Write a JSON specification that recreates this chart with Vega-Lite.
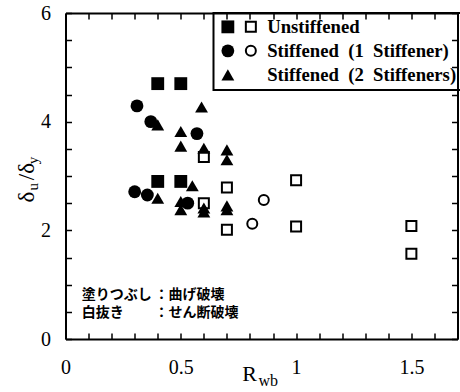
{
  "$schema": "https://vega.github.io/schema/vega-lite/v6.json",
  "width": 392,
  "height": 326,
  "autosize": {"type": "none"},
  "padding": {"left": 65.5, "top": 13, "right": 2.5, "bottom": 53},
  "background": "white",
  "config": {
    "view": {"stroke": null},
    "font": "Liberation Serif",
    "axis": {
      "grid": false,
      "domainColor": "black",
      "domainWidth": 2,
      "labelColor": "black",
      "labelFont": "Liberation Serif",
      "labelFontSize": 20,
      "labelFlush": false,
      "labelOverlap": false,
      "labelBound": false,
      "titleColor": "black",
      "titleFont": "Liberation Serif",
      "titleFontWeight": "normal"
    },
    "legend": {"strokeColor": "black", "strokeWidth": 2}
  },
  "datasets": {
    "tests": [
      {"rwb": 0.40, "ratio": 4.70, "type": "U", "mode": "bend"},
      {"rwb": 0.50, "ratio": 4.70, "type": "U", "mode": "bend"},
      {"rwb": 0.40, "ratio": 2.90, "type": "U", "mode": "bend"},
      {"rwb": 0.50, "ratio": 2.90, "type": "U", "mode": "bend"},
      {"rwb": 0.31, "ratio": 4.29, "type": "S1", "mode": "bend"},
      {"rwb": 0.37, "ratio": 4.00, "type": "S1", "mode": "bend"},
      {"rwb": 0.57, "ratio": 3.78, "type": "S1", "mode": "bend"},
      {"rwb": 0.30, "ratio": 2.71, "type": "S1", "mode": "bend"},
      {"rwb": 0.355, "ratio": 2.65, "type": "S1", "mode": "bend"},
      {"rwb": 0.53, "ratio": 2.50, "type": "S1", "mode": "bend"},
      {"rwb": 0.40, "ratio": 3.94, "type": "S2", "mode": "bend"},
      {"rwb": 0.59, "ratio": 4.27, "type": "S2", "mode": "bend"},
      {"rwb": 0.50, "ratio": 3.82, "type": "S2", "mode": "bend"},
      {"rwb": 0.50, "ratio": 3.55, "type": "S2", "mode": "bend"},
      {"rwb": 0.60, "ratio": 3.51, "type": "S2", "mode": "bend"},
      {"rwb": 0.70, "ratio": 3.48, "type": "S2", "mode": "bend"},
      {"rwb": 0.70, "ratio": 3.30, "type": "S2", "mode": "bend"},
      {"rwb": 0.55, "ratio": 2.82, "type": "S2", "mode": "bend"},
      {"rwb": 0.40, "ratio": 2.59, "type": "S2", "mode": "bend"},
      {"rwb": 0.50, "ratio": 2.53, "type": "S2", "mode": "bend"},
      {"rwb": 0.50, "ratio": 2.38, "type": "S2", "mode": "bend"},
      {"rwb": 0.60, "ratio": 2.41, "type": "S2", "mode": "bend"},
      {"rwb": 0.60, "ratio": 2.34, "type": "S2", "mode": "bend"},
      {"rwb": 0.70, "ratio": 2.45, "type": "S2", "mode": "bend"},
      {"rwb": 0.70, "ratio": 2.38, "type": "S2", "mode": "bend"},
      {"rwb": 0.60, "ratio": 3.35, "type": "U", "mode": "shear"},
      {"rwb": 0.70, "ratio": 2.79, "type": "U", "mode": "shear"},
      {"rwb": 0.60, "ratio": 2.50, "type": "U", "mode": "shear"},
      {"rwb": 0.70, "ratio": 2.01, "type": "U", "mode": "shear"},
      {"rwb": 1.00, "ratio": 2.92, "type": "U", "mode": "shear"},
      {"rwb": 1.00, "ratio": 2.07, "type": "U", "mode": "shear"},
      {"rwb": 1.50, "ratio": 2.08, "type": "U", "mode": "shear"},
      {"rwb": 1.50, "ratio": 1.57, "type": "U", "mode": "shear"},
      {"rwb": 0.86, "ratio": 2.56, "type": "S1", "mode": "shear"},
      {"rwb": 0.81, "ratio": 2.12, "type": "S1", "mode": "shear"}
    ],
    "notes": [
      {"key": "塗りつぶし", "desc": "：曲げ破壊", "y": 0.81},
      {"key": "白抜き", "desc": "：せん断破壊", "y": 0.48}
    ]
  },
  "layer": [
    {
      "data": {"name": "tests"},
      "transform": [{"filter": "datum.mode === 'bend'"}],
      "mark": {"type": "point", "filled": true, "color": "black", "opacity": 1, "size": 165},
      "encoding": {
        "x": {
          "field": "rwb", "type": "quantitative",
          "scale": {"domain": [0, 1.7], "nice": false, "zero": false},
          "axis": {
            "orient": "bottom",
            "values": [0, 0.5, 1, 1.5],
            "format": ".1~f",
            "ticks": false,
            "labelPadding": 18,
            "title": "R",
            "titleFontSize": 22,
            "titleAlign": "center",
            "titleBaseline": "alphabetic",
            "titleX": 183.5,
            "titleY": 41
          }
        },
        "y": {
          "field": "ratio", "type": "quantitative",
          "scale": {"domain": [0, 6], "nice": false},
          "axis": {
            "orient": "left",
            "values": [0, 2, 4, 6],
            "format": "d",
            "ticks": false,
            "labelPadding": 15,
            "title": "δ\u00a0\u00a0/δ",
            "titleFontSize": 23,
            "titleAngle": 270,
            "titleAlign": "left",
            "titleBaseline": "alphabetic",
            "titleX": -32.5,
            "titleY": 189
          }
        },
        "shape": {
          "field": "type", "type": "nominal",
          "scale": {"domain": ["U", "S1", "S2"], "range": ["square", "circle", "triangle-up"]},
          "legend": {
            "orient": "none",
            "legendX": 148,
            "legendY": 0,
            "title": "\u00a0",
            "titleFontSize": 2,
            "titlePadding": -2.5,
            "padding": 5,
            "rowPadding": 4,
            "labelOffset": 30,
            "labelFont": "Liberation Serif",
            "labelFontSize": 18.7,
            "labelFontWeight": "bold",
            "labelColor": "black",
            "labelLimit": 400,
            "symbolSize": 165,
            "symbolFillColor": "black",
            "symbolStrokeColor": "black",
            "symbolStrokeWidth": 0,
            "symbolOpacity": 1,
            "labelExpr": "datum.value === 'U' ? 'Unstiffened' : datum.value === 'S1' ? 'Stiffened\u00a0 (1\u00a0 Stiffener)' : 'Stiffened\u00a0 (2\u00a0 Stiffeners)'"
          }
        }
      }
    },
    {
      "data": {"name": "tests"},
      "transform": [{"filter": "datum.mode === 'shear'"}],
      "mark": {"type": "point", "filled": false, "color": "black", "opacity": 1, "strokeWidth": 2, "size": 100},
      "encoding": {
        "x": {
          "field": "rwb", "type": "quantitative",
          "axis": {
            "orient": "top",
            "offset": -326,
            "values": [0, 0.1, 0.2, 0.3, 0.4, 0.5, 0.6, 0.7, 0.8, 0.9, 1, 1.1, 1.2, 1.3, 1.4, 1.5, 1.6, 1.7],
            "labels": false,
            "domain": false,
            "ticks": true,
            "tickColor": "black",
            "tickWidth": 1.5,
            "tickSize": 6,
            "title": "wb",
            "titleFontSize": 16,
            "titleAlign": "left",
            "titleBaseline": "alphabetic",
            "titleX": 192.5,
            "titleY": 46
          }
        },
        "y": {
          "field": "ratio", "type": "quantitative",
          "axis": {
            "orient": "right",
            "offset": -392,
            "values": [0, 0.5, 1, 1.5, 2, 2.5, 3, 3.5, 4, 4.5, 5, 5.5, 6],
            "labels": false,
            "domain": false,
            "ticks": true,
            "tickColor": "black",
            "tickWidth": 1.5,
            "tickSize": 6,
            "title": "u\u00a0\u00a0\u00a0\u00a0\u00a0y",
            "titleFontSize": 15,
            "titleAngle": 270,
            "titleAlign": "left",
            "titleBaseline": "alphabetic",
            "titleX": -28.5,
            "titleY": 177
          }
        },
        "shape": {
          "field": "type", "type": "nominal",
          "scale": {"domain": ["U", "S1"], "range": ["square", "circle"]},
          "legend": {
            "orient": "none",
            "legendX": 171,
            "legendY": 0,
            "title": "\u00a0",
            "titleFontSize": 2,
            "titlePadding": -2.5,
            "padding": 5,
            "strokeColor": "transparent",
            "rowPadding": 4,
            "labelFontSize": 18.7,
            "labelExpr": "'\u00a0'",
            "symbolSize": 100,
            "symbolFillColor": "transparent",
            "symbolStrokeColor": "black",
            "symbolStrokeWidth": 2,
            "symbolOpacity": 1
          }
        }
      }
    },
    {
      "data": {"name": "tests"},
      "transform": [{"filter": "datum.mode === 'shear'"}],
      "mark": {"type": "point", "filled": false, "opacity": 0, "size": 1},
      "encoding": {
        "x": {
          "field": "rwb", "type": "quantitative",
          "axis": {
            "orient": "bottom",
            "offset": -326,
            "values": [0, 0.1, 0.2, 0.3, 0.4, 0.5, 0.6, 0.7, 0.8, 0.9, 1, 1.1, 1.2, 1.3, 1.4, 1.5, 1.6, 1.7],
            "labels": false,
            "ticks": true,
            "tickColor": "black",
            "tickWidth": 1.5,
            "tickSize": 6,
            "title": null
          }
        },
        "y": {
          "field": "ratio", "type": "quantitative",
          "axis": {
            "orient": "left",
            "offset": -392,
            "values": [0, 0.5, 1, 1.5, 2, 2.5, 3, 3.5, 4, 4.5, 5, 5.5, 6],
            "labels": false,
            "ticks": true,
            "tickColor": "black",
            "tickWidth": 1.5,
            "tickSize": 6,
            "title": null
          }
        }
      }
    },
    {
      "data": {"name": "notes"},
      "mark": {"type": "text", "align": "left", "baseline": "middle", "font": "Noto Sans CJK JP", "fontSize": 14, "fontWeight": "bold", "color": "black"},
      "encoding": {
        "x": {"datum": 0.07, "type": "quantitative", "axis": null},
        "y": {"field": "y", "type": "quantitative", "axis": null},
        "text": {"field": "key"}
      }
    },
    {
      "data": {"name": "notes"},
      "mark": {"type": "text", "align": "left", "baseline": "middle", "font": "Noto Sans CJK JP", "fontSize": 14, "fontWeight": "bold", "color": "black"},
      "encoding": {
        "x": {"datum": 0.386, "type": "quantitative", "axis": null},
        "y": {"field": "y", "type": "quantitative", "axis": null},
        "text": {"field": "desc"}
      }
    }
  ],
  "resolve": {
    "scale": {"shape": "independent"},
    "legend": {"shape": "independent"},
    "axis": {"x": "independent", "y": "independent"}
  }
}
